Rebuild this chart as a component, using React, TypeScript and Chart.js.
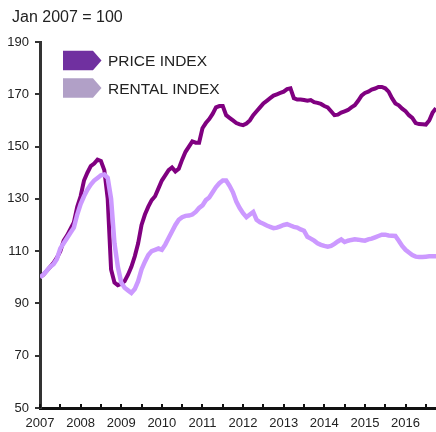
import { useEffect, useRef } from 'react';
import { Chart, registerables } from 'chart.js';

Chart.register(...registerables);

const titleText = 'Jan 2007 = 100';
const yearLabels = ['2007', '2008', '2009', '2010', '2011', '2012', '2013', '2014', '2015', '2016'];
const halfYearTicks = [0, 6, 12, 18, 24, 30, 36, 42, 48, 54, 60, 66, 72, 78, 84, 90, 96, 102, 108, 114];
const seriesNames = ['PRICE INDEX', 'RENTAL INDEX'];

// Monthly values, Jan 2007 .. Oct 2016
const priceIndex = [
  100, 101, 102.5, 104, 105.5, 107.5, 110, 114, 116, 118.5, 121, 127,
  131, 137, 140, 142.5, 143.5, 145, 144.5, 141, 130, 103, 98, 97,
  97.5, 98.5, 101, 104, 108, 113, 120, 124, 127, 129.5, 131, 134,
  137, 139, 141, 142, 140.5, 141.5, 145, 148, 150, 152, 151.5, 151.5,
  157, 159, 160.5, 162.5, 165, 165.5, 165.5, 162, 161, 160, 159, 158.5,
  158.2, 158.8, 160, 162, 163.5, 165, 166.5, 167.5, 168.5, 169.5, 170, 170.5,
  171, 172, 172.3, 168.5, 168, 168, 167.8, 167.5, 167.8, 167, 166.7, 166.3,
  165.5, 165, 163.5, 162, 162.2, 163, 163.5, 164, 165, 165.8, 167.5, 169.5,
  170.5, 171, 171.8, 172.2, 172.8, 172.8, 172.3, 171, 168.5, 166.5, 165.8, 164.5,
  163.5, 162, 161, 159, 158.6, 158.5, 158.4, 160, 163, 164.7,
];

const rentalIndex = [
  100, 101, 102.5, 104, 105, 107, 111, 113, 115, 117, 119, 124,
  128, 131, 133.5, 135.5, 137, 138, 139, 139.3, 138, 130, 113, 104,
  98, 96, 95, 94, 95.5, 98.5, 103, 106, 108.5, 110, 110.5, 111,
  110.5, 112.5, 115, 117.5, 120, 122, 123, 123.5, 123.6, 124, 125, 126.5,
  127.5, 129.5, 130.5, 132.5, 134.5, 136, 137, 137, 135, 132.5, 129, 126.5,
  124.5, 123, 124, 125, 122, 121, 120.5, 119.8, 119.3, 118.8, 119, 119.5,
  120, 120.3, 119.8, 119.3, 119, 118.3, 117.8, 115.5, 114.8, 114, 113, 112.4,
  112, 111.7, 112, 112.8, 113.7, 114.5, 113.5, 114, 114.3, 114.5, 114.4, 114.2,
  114, 114.5, 114.8, 115.3, 115.8, 116.3, 116.3, 116, 115.9, 115.8, 114, 112,
  110.5, 109.5, 108.5, 107.9, 107.8, 107.8, 107.9, 108, 108, 108,
];

const FONT = "'Liberation Sans', Arial, Helvetica, sans-serif";
const PRICE_LINE = '#800080';
const RENTAL_LINE = '#CC99FF';
const PRICE_KEY = '#7030A0';
const RENTAL_KEY = '#B1A0C7';

const overlayPlugin = {
  id: 'overlay',
  afterDraw(chart: any) {
    const ctx = chart.ctx;
    const xScale = chart.scales.x;
    const area = chart.chartArea;
    ctx.save();
    // x-axis tick marks (inward)
    ctx.strokeStyle = '#111';
    ctx.lineWidth = 2;
    halfYearTicks.forEach((m) => {
      const px = Math.round(xScale.getPixelForValue(m));
      ctx.beginPath();
      ctx.moveTo(px, area.bottom);
      ctx.lineTo(px, area.bottom - 4);
      ctx.stroke();
    });
    // title
    ctx.fillStyle = '#222';
    ctx.font = `16px ${FONT}`;
    ctx.textBaseline = 'alphabetic';
    ctx.textAlign = 'left';
    ctx.fillText(titleText, 12, 22);
    // legend
    const keys = [PRICE_KEY, RENTAL_KEY];
    const centers = [60.5, 88];
    keys.forEach((c, i) => {
      const cy = centers[i];
      const h = 19.5;
      const x0 = 63;
      const x1 = 93;
      const x2 = 101.5;
      ctx.fillStyle = c;
      ctx.beginPath();
      ctx.moveTo(x0, cy - h / 2);
      ctx.lineTo(x1, cy - h / 2);
      ctx.lineTo(x2, cy);
      ctx.lineTo(x1, cy + h / 2);
      ctx.lineTo(x0, cy + h / 2);
      ctx.closePath();
      ctx.fill();
      ctx.fillStyle = '#222';
      ctx.font = `15.5px ${FONT}`;
      ctx.fillText(chart.data.datasets[i === 0 ? 1 : 0].label, 108, cy + 5.7);
    });
    ctx.restore();
  },
};

export default function App() {
  const ref = useRef<HTMLCanvasElement | null>(null);
  useEffect(() => {
    if (!ref.current) return;
    const months = priceIndex.map((_, i) => i);
    const chart = new Chart(ref.current, {
      type: 'line',
      data: {
        datasets: [
          {
            label: seriesNames[1],
            data: months.map((m) => ({ x: m, y: rentalIndex[m] })),
            borderColor: RENTAL_LINE,
            borderWidth: 4.5,
            pointRadius: 0,
            tension: 0,
            order: 0,
          },
          {
            label: seriesNames[0],
            data: months.map((m) => ({ x: m, y: priceIndex[m] })),
            borderColor: PRICE_LINE,
            borderWidth: 4,
            pointRadius: 0,
            tension: 0,
            order: 1,
          },
        ],
      },
      options: {
        responsive: false,
        animation: false,
        devicePixelRatio: 1,
        layout: { padding: { left: 6, right: 0, top: 42, bottom: 0 } },
        plugins: { legend: { display: false }, tooltip: { enabled: false }, title: { display: false } },
        scales: {
          x: {
            type: 'linear',
            min: 0,
            max: 117,
            afterBuildTicks: (scale: any) => {
              scale.ticks = halfYearTicks.map((v) => ({ value: v }));
            },
            afterFit: (scale: any) => {
              scale.height = 24;
            },
            grid: { display: false, drawTicks: false },
            border: { display: true, color: '#111', width: 3 },
            ticks: {
              autoSkip: false,
              maxRotation: 0,
              padding: 8,
              color: '#222',
              font: { family: FONT, size: 13 },
              callback: (v: any) => (Number(v) % 12 === 0 ? yearLabels[Number(v) / 12] : ''),
            },
          },
          y: {
            min: 50,
            max: 190,
            afterFit: (scale: any) => {
              scale.width = 34;
            },
            grid: { drawOnChartArea: false, drawTicks: true, tickLength: 5, color: '#333', lineWidth: 2 },
            border: { display: true, color: '#333', width: 3 },
            ticks: { stepSize: 20, padding: 6, color: '#222', font: { family: FONT, size: 13 } },
          },
        },
      },
      plugins: [overlayPlugin],
    } as any);
    return () => chart.destroy();
  }, []);
  return (
    <div style={{ position: 'absolute', left: 0, top: 0, width: 436, height: 432 }}>
      <canvas ref={ref} width={436} height={432} />
    </div>
  );
}
